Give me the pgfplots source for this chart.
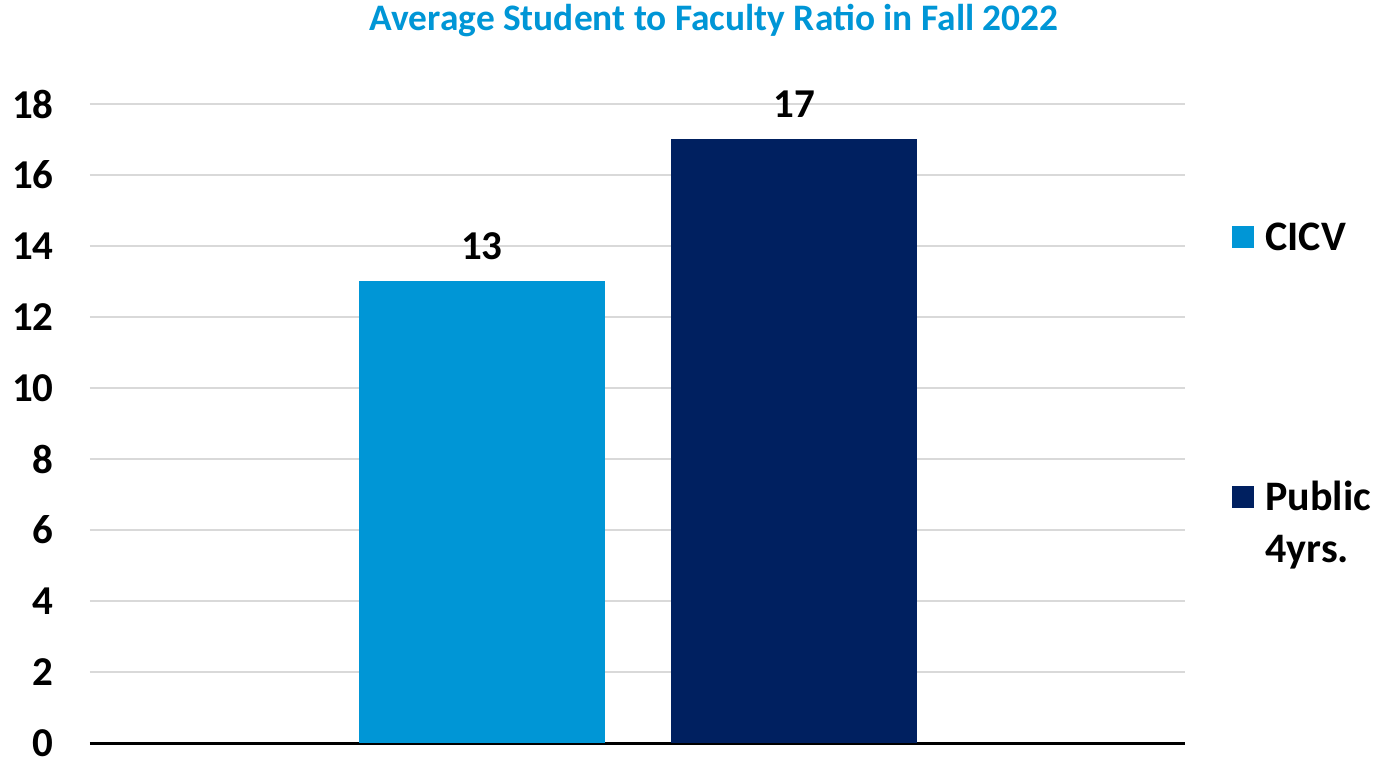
\documentclass[border=0pt]{standalone}
\usepackage{fontspec}
\setmainfont{Carlito}
\usepackage{pgfplots}
\pgfplotsset{compat=1.18}
\definecolor{cicv}{HTML}{0096D6}
\definecolor{pub}{HTML}{002060}
\pgfplotsset{ybar legend/.style={legend image code/.code={\fill[##1,draw=none] (0bp,-4bp) rectangle (11bp,7bp);}}}
\newcommand{\bigf}{\fontsize{20.5bp}{24bp}\selectfont\bfseries}
\begin{document}
\begin{tikzpicture}
\begin{axis}[
  scale only axis, width=547.5bp, height=319.5bp,
  xmin=-0.256, xmax=3.253, ymin=0, ymax=18,
  ytick={0,2,...,18}, xtick=\empty,
  ybar, bar width=0.788,
  axis x line=bottom, axis y line=left,
  x axis line style={-, black, line width=1.5bp},
  y axis line style={draw=none},
  major tick length=0pt,
  ymajorgrids, grid style={draw=black!15, line width=0.6bp},
  /pgf/number format/assume math mode=true,
  yticklabel style={font=\bigf, inner sep=0pt, xshift=-18bp},
  nodes near coords,
  nodes near coords style={font=\bigf, anchor=south, yshift=7.5bp, black},
  title={Average Student to Faculty Ratio in Fall 2022},
  every axis title shift=0pt,
  title style={font=\fontsize{18.7bp}{22bp}\selectfont\bfseries, color=cicv, at={(0.57,1.13)}, anchor=center, yshift=0pt, inner sep=0pt},
  legend style={at={(1,1)}, anchor=north west, xshift=23.5bp, yshift=-55bp,
    draw=none, fill=none, inner sep=0pt, row sep=0pt, column sep=5.5bp,
    font=\fontsize{21bp}{25bp}\selectfont\bfseries,
    nodes={inner sep=0pt, text height=18bp, text depth=8bp}},
  legend cell align=left,
]
\addplot[fill=cicv, draw=none, bar shift=0pt] coordinates {(1,13)};
\addlegendentry{CICV}
\addlegendimage{empty legend}\addlegendentry{}
\addlegendimage{empty legend}\addlegendentry{}
\addlegendimage{empty legend}\addlegendentry{}
\addlegendimage{empty legend}\addlegendentry{}
\addplot[fill=pub, draw=none, bar shift=0pt] coordinates {(2,17)};
\addlegendentry{Public}
\addlegendimage{empty legend}\addlegendentry{4yrs.}
\end{axis}
\path (current axis.south west) +(-45bp,-7bp) (current axis.north east) +(96bp,52bp);
\end{tikzpicture}
\end{document}
